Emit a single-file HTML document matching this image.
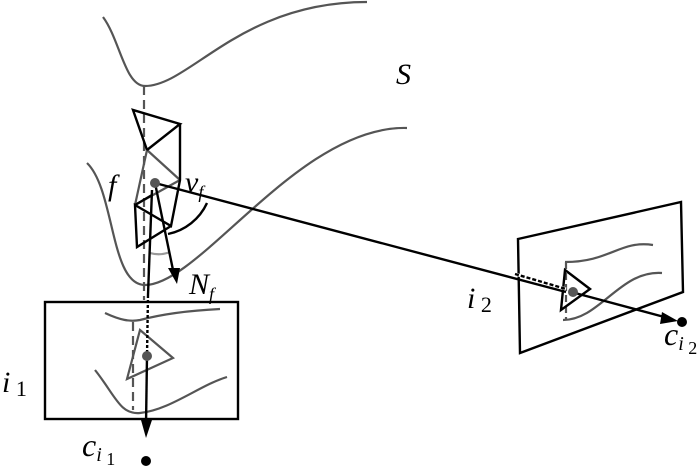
<!DOCTYPE html>
<html><head><style>body{margin:0;background:#fff}svg{display:block}</style></head>
<body>
<svg width="700" height="466" viewBox="0 0 700 466">
<g fill="none" stroke="#555" stroke-width="2.2">
<path d="M103,17 C120,40 125,86 145,86 C190,86 240,2 367,2"/>
<path d="M87,163 C115,190 110,285 145,285 C200,285 300,125 407,128"/>
<line x1="144" y1="86" x2="144" y2="300" stroke-dasharray="9,5"/>
<line x1="147" y1="150" x2="180" y2="180"/><line x1="147" y1="150" x2="135" y2="205"/><line x1="135" y1="205" x2="180" y2="180"/>
<path d="M150,253 Q160,256 170,252" stroke="#999"/>
<path d="M105,313 C120,320 130,322 140,320 C170,312 200,310 220,309"/>
<path d="M95,370 C115,395 120,415 140,413 C170,410 200,385 227,377"/>
<line x1="133" y1="322" x2="133" y2="410" stroke-dasharray="9,5"/>
<polygon points="140,330 173,358 127,379"/>
<path d="M565,262 C610,262 620,240 653,245"/>
<path d="M563,320 C600,320 620,270 662,273"/>
<line x1="566" y1="262" x2="566" y2="320" stroke-dasharray="7,4"/>
</g>
<g fill="none" stroke="#000" stroke-width="2.4">
<polyline points="147,150 133,110 180,124 147,150"/>
<polyline points="180,124 180,180 171,226 135,205 137,247 171,226"/>
<line x1="135" y1="205" x2="152" y2="195"/>
<path d="M207,203 A55,55 0 0 1 168,234"/>
<line x1="155" y1="183" x2="566" y2="292"/>
<line x1="575" y1="293" x2="668" y2="318"/>
<line x1="155" y1="183" x2="173" y2="270"/>
<line x1="152" y1="190" x2="148" y2="295"/>
<line x1="148" y1="295" x2="147" y2="356" stroke-dasharray="3,2"/>
<line x1="147" y1="356" x2="146" y2="425"/>
<rect x="45" y="302" width="193" height="117"/>
<polygon points="518,239 681,202 683,292 520,353"/>
<polygon points="565,270 590,289 561,310"/>
</g>
<line x1="515" y1="274" x2="566" y2="289" stroke="#fff" stroke-width="3"/>
<line x1="515" y1="274" x2="566" y2="289" stroke="#000" stroke-width="2.4" stroke-dasharray="4,2"/>
<polygon points="168,268 180,268 177,284" fill="#000"/>
<polygon points="141,420 152,420 146,438" fill="#000"/>
<polygon points="662,312 678,321 660,324" fill="#000"/>
<circle cx="155" cy="183" r="5" fill="#555"/>
<circle cx="147" cy="356" r="5" fill="#555"/>
<circle cx="573" cy="292" r="5" fill="#555"/>
<circle cx="146" cy="461" r="5" fill="#000"/>
<circle cx="682" cy="322" r="5" fill="#000"/>
<g font-family="Liberation Serif, DejaVu Serif, serif" font-style="italic" fill="#000">
<text x="396" y="84" font-size="30">S</text>
<text x="108" y="195" font-size="30">f</text>
<text x="185" y="192" font-size="30">v<tspan font-size="18" dy="6">f</tspan></text>
<text x="189" y="294" font-size="30">N<tspan font-size="18" dy="6">f</tspan></text>
<text x="2" y="392" font-size="30">i<tspan font-size="22" dy="4" font-style="normal"> 1</tspan></text>
<text x="467" y="308" font-size="30">i<tspan font-size="22" dy="4" font-style="normal"> 2</tspan></text>
<text x="82" y="456" font-size="32">c<tspan font-size="20" dy="5">i</tspan><tspan font-size="18" dy="4" font-style="normal"> 1</tspan></text>
<text x="664" y="345" font-size="32">c<tspan font-size="20" dy="5">i</tspan><tspan font-size="18" dy="4" font-style="normal"> 2</tspan></text>
</g>
</svg>
</body></html>
